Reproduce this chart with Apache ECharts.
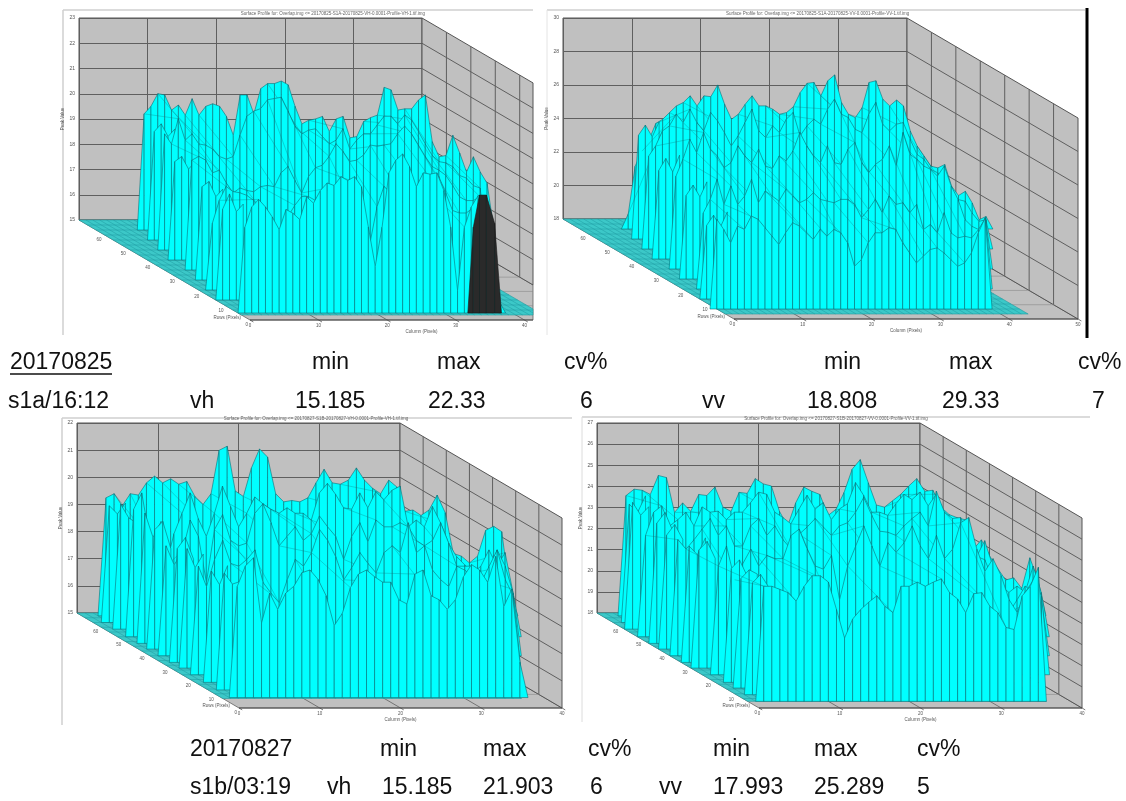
<!DOCTYPE html>
<html>
<head>
<meta charset="utf-8">
<style>html,body{margin:0;padding:0;background:#fff}#c{width:1126px;height:801px}</style>
<script src="https://cdn.jsdelivr.net/npm/echarts@6/dist/echarts.min.js"></script>
</head>
<body>
<div id="c"></div>
<script>
// ---------- data ----------
const topHeader = ['20170825','min','max','cv%','min','max','cv%'];
const topValues = ['s1a/16:12','vh','15.185','22.33','6','vv','18.808','29.33','7'];
const bottomHeader = ['20170827','min','max','cv%','min','max','cv%'];
const bottomValues = ['s1b/03:19','vh','15.185','21.903','6','vv','17.993','25.289','5'];
const rowTicks = [70,60,50,40,30,20,10,0];

const p1Depths = [0.1,0.3,0.5,0.7,0.93];
const p1Starts = [6,4,3,1,0];
const p1RowA = [15,19.6,19.9,20.4,20.35,19.75,19.95,19.55,20.2,19.55,19.9,20,19.9,19.5,18.75,20.35,20.35,19.6,20.6,20.8,20.8,20.9,20.75,19.9,19.2,19.35,19.4,19.5,18.9,19.4,19.5,18.65,18.7,19.3,19.45,19.55,20.65,20.55,19.75,19.8,19.8,20.15,20.35,18.5,17.9,17.95,18.75,18.05,17.3,17.9,17.3,16.85,15];
const p1RowB = [15,19.6,19.2,20.2,19.35,19.6,19.2,19.15,19,18.7,18.6,18.7,19.55,20.3,20.5,20.6,20.95,21,21.05,20.5,19.9,19.6,19.75,19.8,19.5,19.2,19.35,19.8,19,19.35,19.6,19.6,19.95,20.3,20.3,20,20.35,20.15,19.7,19.2,18.75,18.5,18.45,18.3,17.95,17.85,17.55,17.45,15];
const p1RowC = [15,19.35,19.5,19.35,18.85,18.95,18.45,18.05,18.25,18.15,18.1,18.3,18.35,18.3,18.85,19.1,18.55,18.05,18.7,19.05,19.15,19.5,20,19.7,19.3,19.35,19.55,19.95,19.9,19.95,20,20.4,20.7,20.4,19.95,19.5,19.1,18.95,18.75,18.35,17.9,17.75,17.75,17.9,15];
const p1RowD = [15,17.65,18.55,19.1,18.9,18.85,18.75,18.55,18.1,17.85,17.5,17.2,17.9,18.35,18.7,18.7,18.55,18.65,19.05,19.1,19.2,19.35,18.7,17.5,16.9,18.3,19.1,18.85,18.45,18.5,18.65,18.95,19.2,19.35,19.5,18.85,18.15,18.05,18.05,18.25,18.35,15];
const p1RowE = [15,18.4,19.2,19.5,19.2,18.8,18.3,19.1,18.95,18.7,19.6,19.35,19.85,20.15,20.05,20.4,20.25,20.4,20,18.4,16.85,18.4,20.55,21.05,21.3,20.8,20,20.55,20.5,20.55,19.85,18.4,15.9,18.4,19.2,19.65,19.65,18.8,15.5,15];
const p1DarkCols = [33.5,34.3,35.2,36.2,37.4,38.4];
const p1DarkVals = [15,18.4,19.67,19.67,18.55,15];
const p1EdgeDepths = [0.2,0.4,0.6,0.8];
const p1EdgeStarts = [5,3,2,0];
const p1EdgeVals = [[15,19.3,19.6,19.1,19.4],[15,18.9,19.1,18.6,18.9],[15,18.7,18.9,18.3,18.6],[15,18.6,19.2,18.5,18.8]];

const p2Depths = [0.1,0.3,0.5,0.7,0.9];
const p2Starts = [6,4,3,2,-1];
const p2RowA = [18,18.9,21.75,22.65,23.3,24.3,24.55,24.95,25.35,25.55,25.95,25.35,25.95,25.9,26.6,25.45,24.55,24.85,25.45,25.95,25.35,25.35,25.15,24.85,24.95,25.3,26.15,26.7,26.75,25.95,26.85,27.2,25.55,24.85,24.65,25.25,26.75,26.85,25.75,25.35,25.7,25.35,23.85,22.95,22.35,21.75,21.65,21.85,20.55,20,20.25,19.55,18.55,18.75,18];
const p2RowB = [18,23.55,24.15,25.05,25.35,26.05,25.55,26.35,25.55,25.05,26.15,25.65,24.95,24.15,24.75,25.55,26.35,25.05,24.65,25.35,24.95,25.75,26.15,24.75,25.35,25.75,25.45,26.35,26.95,26.05,25.85,25.15,24.95,26.05,26.75,25.45,25.05,25.45,25.55,24.55,23.65,23.35,22.75,22.55,22.05,21.15,20.95,20.85,20.15,19.65,19.75,18];
const p2RowC = [18,23.55,24.55,25.75,24.95,26.15,25.15,24.75,24.05,24.35,25.35,24.75,24.35,25.15,24.15,24,24.75,24.45,25.05,26.15,25.35,24.75,24.35,25.35,24.35,24.25,25.15,25.55,24.35,23.75,24.25,24.55,25.35,24.15,26.15,24.85,24.55,24.15,23.95,23.55,24.15,22.95,22.15,20.95,20.55,20.35,20.95,18];
const p2RowD = [18,22.55,23.35,24.55,23.05,24.15,23.05,23.55,24.55,23.15,23.85,23.55,23.25,23.95,23.55,23.15,23.35,23.75,23.35,23.25,23.15,23.35,23.35,23.05,22.25,22.75,23.35,22.55,23.55,23.05,23.15,22.55,23.05,21.55,21.85,21.35,22.55,21.35,21.05,21.15,21.05,21.55,22.25,18];
const p2RowE = [18,23.35,22.75,21.95,22.95,22.75,23.55,23.35,22.85,22.35,21.85,22.55,23.15,22.95,22.55,22.15,22.75,22.35,22.75,22.55,21.95,20.55,20.95,21.95,22.55,22.55,22.85,22.75,21.95,21.35,20.75,21.15,21.55,21.65,21.35,20.95,20.55,20.75,21.35,22.55,23.45,18];
const p2EdgeDepths = [0.2,0.4,0.6,0.8];
const p2EdgeStarts = [5,3,2,0];
const p2EdgeVals = [[18,24.2,24.8,24.1,25],[18,23.3,24,23.2,24.2],[18,23,23.6,22.9,23.8],[18,22.4,23,22.3,23.2]];

const p3Depths = [0.03,0.25,0.45,0.65,0.89];
const p3Starts = [2,1,1,1,1];
const p3RowA = [15,19.35,19.5,19.05,19.5,19.45,19.9,20.15,19.9,20.05,19.85,19.95,19.4,19.1,19.5,21.1,21.25,19.6,19.4,20.45,21.15,20.85,19.5,19.2,19.25,19.2,19.35,19.9,20.4,19.9,19.85,20,20.45,20,19.7,19.5,20,19.75,18.85,18.9,18.7,18.9,19.45,18.8,17.3,17.2,16.95,17.2,18.15,18.3,18.1,15.85,15];
const p3RowB = [15,19.7,20.3,18.6,18.7,17.6,18.8,19.55,20.3,19.35,18.7,19.55,20.55,19.8,19.05,19.55,20.15,19.9,19.7,19.55,19.75,19.55,19.55,19.3,20.3,20.65,20.25,19.75,19.7,20.3,19.75,20.35,20.05,20.4,20.55,19.05,19.3,19.05,19.8,19.2,18.45,17.95,17.65,17.35,17.6,18.2,17.6,18.1,16.6,15];
const p3RowC = [15,19.05,18.35,18.8,20,19.4,17.7,19.65,20.2,19.25,19.05,19.15,20.25,20.6,19.9,19.05,19.4,19.75,19.25,19.5,20.15,19.75,19.4,18.55,19.4,19.9,19.2,20,19.75,19.75,19.9,19.75,19.25,19.05,19.25,19.9,19.15,18.3,18.3,18.3,17.8,18.05,18.9,18.3,17.3,15];
const p3RowD = [15,19,18.25,19.25,19.95,19.1,19,19.25,19.6,18.4,18,17.65,18.5,19.25,19,19.5,20.35,19.95,19.35,18.5,18.95,19.5,19.1,18.75,19.5,19.75,19.5,20.6,19.5,19.75,18.85,18.5,18.25,19,18.85,18.6,18.4,19,19.6,18.5,17.9,15];
const p3RowE = [15,19.1,19.85,20.15,17.75,18.85,18.25,18.85,19.1,19.6,19.7,19.35,18.75,17.65,18.1,19.05,19.55,19.7,19.45,19.25,19.25,18.6,18.45,19.55,19.7,18.75,18.6,18.25,18.6,19.45,19.9,19.7,19.25,20.2,18.35,19,16.3,15];
const p3EdgeDepths = [0.1,0.17,0.32,0.38,0.52,0.58,0.73,0.81];
const p3EdgeStarts = [1,1,1,1,1,1,1,1];
const p3EdgeVals = [[15,19.3,19,19.4],[15,19.6,19.1,18.9],[15,19.8,18.9,19.5],[15,19.4,19.7,18.7],[15,19.2,19.6,18.8],[15,19.4,18.7,19.2],[15,19.1,18.6,19.3],[15,19.3,18.9,19]];

const p4Depths = [0.03,0.25,0.45,0.65,0.93];
const p4Starts = [2,0,0,1,1];
const p4RowA = [18,23.7,24,23.95,23.75,24.65,24.55,22.9,23.35,22.95,23.75,23.7,24.1,23.15,22.95,23.85,23.8,24.5,24.25,24.15,22.95,22.25,23.35,24.1,23.9,23.75,22.75,23.05,23.85,24.95,25.4,24.3,23.25,23.15,23.45,23.75,24.15,24.5,23.9,23.95,23.15,22.8,22.65,22.55,21.15,21.6,20.85,20.25,19.7,19.8,19.3,20.75,19.7,18];
const p4RowB = [18,22.8,23.9,24.2,23.25,23.55,23.9,23.25,24.15,23.9,23.95,23.55,23.9,23.9,24.35,24.85,24.75,23.9,23.65,23.35,24.05,24.7,24.05,24.35,23.55,24.05,24.3,25.3,24.7,23.9,23.9,23.75,24.3,24.75,24.5,24.85,24.2,24.75,23.9,23.4,22.8,22.6,21.8,22.55,21.35,20.4,20.1,20.4,20.1,21.35,20.1,18];
const p4RowC = [18,23.5,23.05,23.5,24,24.5,23.7,24.15,23.2,23.2,24.15,24.5,23.7,24.15,23.5,23.05,23.75,24.1,24.5,24.1,23.7,24.15,24.3,24.8,25.5,24.65,23.9,23.85,23.7,24.15,24.5,24.8,24.15,25.8,24.8,24.5,24.55,23.5,22.7,22.55,21.6,21.3,20.05,20.65,21.3,21,20.65,18];
const p4RowD = [18,23.15,24.1,22.5,23.25,23.95,23.15,23.65,23.5,23.5,24.6,24.9,23.95,23.15,23,23.65,21.55,23.15,24.1,25.05,24.1,23.15,24.25,23.8,24.25,25.05,24.1,23.5,24.6,23.5,23.95,25.2,25.45,23.95,22.9,23.5,22.7,21.55,20.95,21.9,22.5,21.75,18];
const p4RowE = [18,23.45,23.45,23.3,23.15,22.75,23.45,23.95,23.95,23.65,22.35,21,21.9,22.35,22.7,23,22.5,22.2,23.45,23.45,23.65,23.45,23.65,23.8,23.15,22.85,22.2,23.1,23.15,22.5,22.2,21.5,21.4,23,23.45,24.35,18];
const p4EdgeDepths = [0.1,0.17,0.32,0.38,0.52,0.58,0.73,0.79,0.86];
const p4EdgeStarts = [1,0,0,0,0,0,1,1,1];
const p4EdgeVals = [[18,23.6,23.2,24],[18,24,23.4,23.8],[18,23.7,24.2,23.3],[18,23.4,23.9,23.2],[18,23.5,23.1,23.9],[18,23.6,24,23.2],[18,23.4,23.8,23],[18,23.2,23.6,23.4],[18,23.3,23.7,23.1]];

// ---------- panel layout ----------
const panels = [
 {l:79, r:422,t:18, b:220,dx:171,dy:100,colMax:50,vMin:15,vMax:23,step:1,clipX:533,floorCols:44,floorDepth:0.95,
  rows:[p1RowA,p1RowB,p1RowC,p1RowD,p1RowE],starts:p1Starts,depths:p1Depths,dark:true,
  edge:{d:p1EdgeDepths,s:p1EdgeStarts,v:p1EdgeVals},
  title:'Surface Profile for: Overlap.img <= 20170825-S1A-20170825-VH-0.0001-Profile-VH-1.tif.img'},
 {l:563,r:907,t:18, b:219,dx:171,dy:100,colMax:50,vMin:18,vMax:30,step:2,floorCols:44,floorDepth:0.95,
  rows:[p2RowA,p2RowB,p2RowC,p2RowD,p2RowE],starts:p2Starts,depths:p2Depths,
  edge:{d:p2EdgeDepths,s:p2EdgeStarts,v:p2EdgeVals},
  title:'Surface Profile for: Overlap.img <= 20170825-S1A-20170825-VV-0.0001-Profile-VV-1.tif.img'},
 {l:77, r:400,t:423,b:613,dx:162,dy:95,colMax:40,vMin:15,vMax:22,step:1,floorCols:37,floorDepth:0.9,
  rows:[p3RowA,p3RowB,p3RowC,p3RowD,p3RowE],starts:p3Starts,depths:p3Depths,
  edge:{d:p3EdgeDepths,s:p3EdgeStarts,v:p3EdgeVals},
  title:'Surface Profile for: Overlap.img <= 20170827-S1B-20170827-VH-0.0001-Profile-VH-1.tif.img'},
 {l:597,r:920,t:423,b:613,dx:162,dy:95,colMax:40,vMin:18,vMax:27,step:1,floorCols:37,floorDepth:0.93,
  rows:[p4RowA,p4RowB,p4RowC,p4RowD,p4RowE],starts:p4Starts,depths:p4Depths,
  edge:{d:p4EdgeDepths,s:p4EdgeStarts,v:p4EdgeVals},
  title:'Surface Profile for: Overlap.img <= 20170827-S1B-20170827-VV-0.0001-Profile-VV-1.tif.img'}
];

const FONT = '"Liberation Sans", Arial, sans-serif';
const CYAN = '#00ffff', RIB = '#0e6f76', WALL = '#c0c0c0', GRIDC = '#5f5f5f', TEAL = '#3cc8c8', TEALLINE = '#1f9aa0';

function buildPieces(P,D,H){
  const out = [];
  const poly = (pts,fill,stroke,lw)=>out.push({k:'poly',pts,fill,stroke,lw});
  const line = (pts,stroke,lw)=>out.push({k:'line',pts,stroke,lw});
  const text = (pt,str,ox,oy,opt)=>out.push(Object.assign({k:'text',pts:[pt],str,ox,oy},opt||{}));
  const {colMax:C,vMin:V0,vMax:V1,step} = P;
  // true when a facet line stays under the ridge it starts from
  const staysBelow=(prev,ps,pd,c,d,v0,v1)=>{
    for(const t of [0.25,0.5,0.75]){
      const dt=pd+t*(d-pd), u=c+(dt-pd)*D-ps, w=v0+t*(v1-v0)-(dt-pd)*H;
      const k=Math.floor(u);
      if(k<0||k+1>=prev.length) return false;
      if(w>prev[k]+(u-k)*(prev[k+1]-prev[k])) return false;
    }
    return true;
  };
  // floor plane and side wall
  poly([[0,0,V0],[C,0,V0],[C,1,V0],[0,1,V0]],WALL,GRIDC,0.8);
  poly([[C,0,V0],[C,1,V0],[C,1,V1],[C,0,V1]],WALL,'#555',1);
  for(let v=V0+step;v<V1;v+=step) line([[C,0,v],[C,1,v]],GRIDC,1);
  for(let i=1;i<7;i++){ line([[C,i/7,V0],[C,i/7,V1]],GRIDC,1); line([[0,i/7,V0],[C,i/7,V0]],'#8a8a8a',0.6); }
  for(let c=10;c<C;c+=10) line([[c,0,V0],[c,1,V0]],GRIDC,0.8);
  // flat part of the surface
  poly([[0,0,V0],[P.floorCols,0,V0],[P.floorCols,P.floorDepth,V0],[0,P.floorDepth,V0]],TEAL,TEALLINE,0.6);
  for(let c=1;c<P.floorCols;c++) line([[c,0,V0],[c,P.floorDepth,V0]],TEALLINE,0.5);
  for(let d=0.05;d<P.floorDepth;d+=0.05) line([[0,d,V0],[P.floorCols,d,V0]],TEALLINE,0.5);
  // surface, back to front: ribbed skirts for the rows and their left-edge pieces
  const layers=[];
  P.rows.forEach((row,i)=>layers.push({d:P.depths[i],s:P.starts[i],row,main:i}));
  P.edge.d.forEach((d,i)=>layers.push({d,s:P.edge.s[i],row:P.edge.v[i],main:-1}));
  layers.sort((a,b)=>a.d-b.d);
  layers.forEach(L=>{
    if(L.main>0){
      const prev=P.rows[L.main-1], pd=P.depths[L.main-1], ps=P.starts[L.main-1];
      for(let j=1;j<L.row.length-1;j+=2){
        const a=L.s+j-ps;
        if(a>0&&a<prev.length-1&&staysBelow(prev,ps,pd,L.s+j,L.d,prev[a],L.row[j]))
          line([[L.s+j,pd,prev[a]],[L.s+j,L.d,L.row[j]]],'rgba(14,111,118,0.6)',0.5);
      }
    }
    for(let j=0;j<L.row.length-1;j++){
      const c=L.s+j;
      poly([[c,L.d,L.row[j]],[c+1,L.d,L.row[j+1]],[c+1,L.d,V0],[c,L.d,V0]],CYAN,RIB,0.6);
    }
  });
  if(P.dark){
    const d=P.depths[4];
    for(let j=0;j<p1DarkCols.length-1;j++)
      poly([[p1DarkCols[j],d,p1DarkVals[j]],[p1DarkCols[j+1],d,p1DarkVals[j+1]],[p1DarkCols[j+1],d,V0],[p1DarkCols[j],d,V0]],'#2a2a2a','#1a1a1a',0.6);
  }
  // front axis, ticks and small labels
  line([[0,1,V0],[C,1,V0]],'#444',0.9);
  for(let c=0;c<=C;c+=10){
    line([[c,1,V0],[c,1.02,V0]],'#444',0.7);
    text([c,1,V0],String(c),0,6,{align:'center'});
  }
  text([C/2,1,V0],'Column (Pixels)',0,12,{align:'center'});
  rowTicks.forEach((t,i)=>{ if(i>0) text([0,i/7,V0],String(t),-2,5,{align:'right'}); });
  text([0,1,V0],'Rows (Pixels)',-9,-2,{align:'right'});
  return out;
}

function clipPoly(pts,X){
  const r=[];
  for(let i=0;i<pts.length;i++){
    const a=pts[i], b=pts[(i+1)%pts.length];
    const ai=a[0]<=X, bi=b[0]<=X;
    if(ai) r.push(a);
    if(ai!==bi){ const t=(X-a[0])/(b[0]-a[0]); r.push([X,a[1]+t*(b[1]-a[1])]); }
  }
  return r;
}

const grids=[],xAxes=[],yAxes=[],series=[];
panels.forEach((P,idx)=>{
  grids.push({left:P.l,top:P.t,width:P.r-P.l,height:P.b-P.t,show:true,backgroundColor:WALL,borderColor:'#555',borderWidth:1,containLabel:false});
  xAxes.push({gridIndex:idx,type:'value',min:0,max:P.colMax,interval:10,axisLabel:{show:false},axisTick:{show:false},axisLine:{show:false},splitLine:{show:true,lineStyle:{color:GRIDC,width:1}}});
  yAxes.push({gridIndex:idx,type:'value',min:P.vMin,max:P.vMax,interval:P.step,axisLabel:{fontSize:5,color:'#555',margin:4,fontFamily:FONT},axisTick:{show:false},axisLine:{show:false},
    splitLine:{show:true,lineStyle:{color:GRIDC,width:1}},name:'Peak Value',nameLocation:'middle',nameGap:11,nameRotate:90,nameTextStyle:{fontSize:4.5,color:'#555',fontFamily:FONT}});
  const D=P.dx/((P.r-P.l)/P.colMax), H=P.dy/((P.b-P.t)/(P.vMax-P.vMin));
  const pieces=buildPieces(P,D,H);
  series.push({
    type:'custom',coordinateSystem:'cartesian2d',xAxisIndex:idx,yAxisIndex:idx,silent:true,clip:false,progressive:0,animation:false,
    data:pieces.map(p=>[p.pts[0][0],p.pts[0][2]]),
    renderItem(params,api){
      const p=pieces[params.dataIndex];
      let pts=p.pts.map(q=>api.coord([q[0]+q[1]*D,q[2]-q[1]*H]));
      if(p.k==='text'){
        if(P.clipX&&pts[0][0]>P.clipX) return null;
        return {type:'text',x:pts[0][0]+p.ox,y:pts[0][1]+p.oy,style:{text:p.str,fontSize:4.5,fontFamily:FONT,fill:'#555',align:p.align,verticalAlign:'middle'}};
      }
      if(P.clipX){
        if(p.k==='poly') pts=clipPoly(pts,P.clipX);
        else {
          const a=pts[0],b=pts[1];
          if(a[0]>P.clipX&&b[0]>P.clipX) return null;
          const c=clipPoly([a,b],P.clipX); pts=c.slice(0,2);
        }
        if(pts.length<2) return null;
      }
      if(p.k==='poly') return {type:'polygon',shape:{points:pts},style:{fill:p.fill,stroke:p.stroke,lineWidth:p.lw}};
      return {type:'polyline',shape:{points:pts},style:{fill:null,stroke:p.stroke,lineWidth:p.lw}};
    }
  });
});

// ---------- table text and panel frames ----------
const g=[];
const label=(str,x,y)=>g.push({type:'text',x,y,silent:true,style:{text:str,fontSize:23,fontFamily:FONT,fill:'#111',align:'left',verticalAlign:'middle'}});
const rule=(x1,y1,x2,y2,c,w)=>g.push({type:'line',silent:true,shape:{x1,y1,x2,y2},style:{stroke:c,lineWidth:w}});
const topHeaderX=[10,312,437,564,824,949,1078];
const topValuesX=[8,190,295,428,580,702,807,942,1092];
const bottomHeaderX=[190,380,483,588,713,814,917];
const bottomValuesX=[190,327,382,483,590,659,713,814,917];
topHeader.forEach((s,i)=>label(s,topHeaderX[i],363));
topValues.forEach((s,i)=>label(s,topValuesX[i],402));
bottomHeader.forEach((s,i)=>label(s,bottomHeaderX[i],750));
bottomValues.forEach((s,i)=>label(s,bottomValuesX[i],788));
rule(10,374,112,374,'#111',1.6);
rule(63,10,533,10,'#cfcfcf',1.5); rule(63,10,63,335,'#cfcfcf',1.5);
rule(547,10,1085,10,'#cfcfcf',1.5); rule(547,10,547,335,'#e4e4e4',1);
rule(1087,8,1087,338,'#000',3);
rule(62,418,572,418,'#cfcfcf',1.5); rule(62,418,62,725,'#cfcfcf',1.5);
rule(582,417,1090,417,'#cfcfcf',1.5); rule(582,417,582,722,'#dcdcdc',1);
panels.forEach(P=>g.push({type:'text',x:P.l+(P.r-P.l)*0.74,y:P.t-4,silent:true,style:{text:P.title,fontSize:4.5,fontFamily:FONT,fill:'#666',align:'center',verticalAlign:'middle'}}));

const chart=echarts.init(document.getElementById('c'),null,{renderer:'canvas'});
chart.setOption({animation:false,backgroundColor:'#fff',tooltip:{show:false},legend:{show:false},grid:grids,xAxis:xAxes,yAxis:yAxes,series,graphic:{elements:g}});
</script>
</body>
</html>
